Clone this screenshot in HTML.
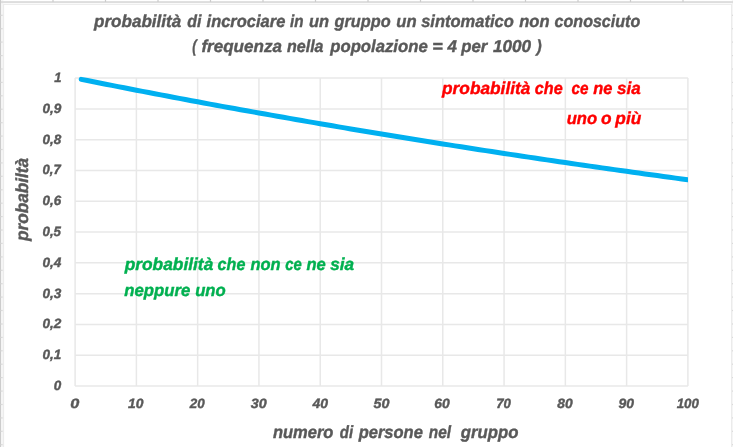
<!DOCTYPE html>
<html><head><meta charset="utf-8"><title>chart</title>
<style>html,body{margin:0;padding:0;background:#fff;overflow:hidden}svg{display:block}text{text-rendering:geometricPrecision;font-family:"Liberation Sans",sans-serif;font-weight:bold;font-style:italic}</style></head><body>
<svg width="733" height="447" viewBox="0 0 733 447">
<rect x="0" y="0" width="733" height="447" fill="#ffffff"/>
<defs><filter id="soft" x="0" y="0" width="100%" height="100%" filterUnits="userSpaceOnUse" color-interpolation-filters="sRGB"><feGaussianBlur stdDeviation="0.55"/></filter></defs>
<g filter="url(#soft)">
<rect x="-5" y="-5" width="743" height="457" fill="#ffffff"/>
<g id="sheet">
<rect x="0" y="0" width="3.4" height="447" fill="#f5f5f5"/>
<rect x="731.8" y="0" width="2" height="447" fill="#f5f5f5"/>
<rect x="0" y="1.1" width="733" height="2" fill="#dddddd"/>
<rect x="0" y="0" width="1.0" height="447" fill="#cccccc"/>
<rect x="52.4" y="0" width="1.2" height="2" fill="#cccccc"/>
<rect x="104.9" y="0" width="1.2" height="2" fill="#cccccc"/>
<rect x="157.4" y="0" width="1.2" height="2" fill="#cccccc"/>
<rect x="209.9" y="0" width="1.2" height="2" fill="#cccccc"/>
<rect x="262.4" y="0" width="1.2" height="2" fill="#cccccc"/>
<rect x="314.9" y="0" width="1.2" height="2" fill="#cccccc"/>
<rect x="367.4" y="0" width="1.2" height="2" fill="#cccccc"/>
<rect x="419.9" y="0" width="1.2" height="2" fill="#cccccc"/>
<rect x="472.4" y="0" width="1.2" height="2" fill="#cccccc"/>
<rect x="524.9" y="0" width="1.2" height="2" fill="#cccccc"/>
<rect x="577.4" y="0" width="1.2" height="2" fill="#cccccc"/>
<rect x="629.9" y="0" width="1.2" height="2" fill="#cccccc"/>
<rect x="682.4" y="0" width="1.2" height="2" fill="#cccccc"/>
<rect x="0.5" y="14.7" width="2.2" height="1.2" fill="#dadada"/>
<rect x="731.6" y="14.7" width="2" height="1.2" fill="#dadada"/>
<rect x="0.5" y="28.1" width="2.2" height="1.2" fill="#dadada"/>
<rect x="731.6" y="28.1" width="2" height="1.2" fill="#dadada"/>
<rect x="0.5" y="41.5" width="2.2" height="1.2" fill="#dadada"/>
<rect x="731.6" y="41.5" width="2" height="1.2" fill="#dadada"/>
<rect x="0.5" y="55.0" width="2.2" height="1.2" fill="#dadada"/>
<rect x="731.6" y="55.0" width="2" height="1.2" fill="#dadada"/>
<rect x="0.5" y="68.4" width="2.2" height="1.2" fill="#dadada"/>
<rect x="731.6" y="68.4" width="2" height="1.2" fill="#dadada"/>
<rect x="0.5" y="81.8" width="2.2" height="1.2" fill="#dadada"/>
<rect x="731.6" y="81.8" width="2" height="1.2" fill="#dadada"/>
<rect x="0.5" y="95.2" width="2.2" height="1.2" fill="#dadada"/>
<rect x="731.6" y="95.2" width="2" height="1.2" fill="#dadada"/>
<rect x="0.5" y="108.6" width="2.2" height="1.2" fill="#dadada"/>
<rect x="731.6" y="108.6" width="2" height="1.2" fill="#dadada"/>
<rect x="0.5" y="122.1" width="2.2" height="1.2" fill="#dadada"/>
<rect x="731.6" y="122.1" width="2" height="1.2" fill="#dadada"/>
<rect x="0.5" y="135.5" width="2.2" height="1.2" fill="#dadada"/>
<rect x="731.6" y="135.5" width="2" height="1.2" fill="#dadada"/>
<rect x="0.5" y="148.9" width="2.2" height="1.2" fill="#dadada"/>
<rect x="731.6" y="148.9" width="2" height="1.2" fill="#dadada"/>
<rect x="0.5" y="162.3" width="2.2" height="1.2" fill="#dadada"/>
<rect x="731.6" y="162.3" width="2" height="1.2" fill="#dadada"/>
<rect x="0.5" y="175.7" width="2.2" height="1.2" fill="#dadada"/>
<rect x="731.6" y="175.7" width="2" height="1.2" fill="#dadada"/>
<rect x="0.5" y="189.2" width="2.2" height="1.2" fill="#dadada"/>
<rect x="731.6" y="189.2" width="2" height="1.2" fill="#dadada"/>
<rect x="0.5" y="202.6" width="2.2" height="1.2" fill="#dadada"/>
<rect x="731.6" y="202.6" width="2" height="1.2" fill="#dadada"/>
<rect x="0.5" y="216.0" width="2.2" height="1.2" fill="#dadada"/>
<rect x="731.6" y="216.0" width="2" height="1.2" fill="#dadada"/>
<rect x="0.5" y="229.4" width="2.2" height="1.2" fill="#dadada"/>
<rect x="731.6" y="229.4" width="2" height="1.2" fill="#dadada"/>
<rect x="0.5" y="242.8" width="2.2" height="1.2" fill="#dadada"/>
<rect x="731.6" y="242.8" width="2" height="1.2" fill="#dadada"/>
<rect x="0.5" y="256.3" width="2.2" height="1.2" fill="#dadada"/>
<rect x="731.6" y="256.3" width="2" height="1.2" fill="#dadada"/>
<rect x="0.5" y="269.7" width="2.2" height="1.2" fill="#dadada"/>
<rect x="731.6" y="269.7" width="2" height="1.2" fill="#dadada"/>
<rect x="0.5" y="283.1" width="2.2" height="1.2" fill="#dadada"/>
<rect x="731.6" y="283.1" width="2" height="1.2" fill="#dadada"/>
<rect x="0.5" y="296.5" width="2.2" height="1.2" fill="#dadada"/>
<rect x="731.6" y="296.5" width="2" height="1.2" fill="#dadada"/>
<rect x="0.5" y="309.9" width="2.2" height="1.2" fill="#dadada"/>
<rect x="731.6" y="309.9" width="2" height="1.2" fill="#dadada"/>
<rect x="0.5" y="323.4" width="2.2" height="1.2" fill="#dadada"/>
<rect x="731.6" y="323.4" width="2" height="1.2" fill="#dadada"/>
<rect x="0.5" y="336.8" width="2.2" height="1.2" fill="#dadada"/>
<rect x="731.6" y="336.8" width="2" height="1.2" fill="#dadada"/>
<rect x="0.5" y="350.2" width="2.2" height="1.2" fill="#dadada"/>
<rect x="731.6" y="350.2" width="2" height="1.2" fill="#dadada"/>
<rect x="0.5" y="363.6" width="2.2" height="1.2" fill="#dadada"/>
<rect x="731.6" y="363.6" width="2" height="1.2" fill="#dadada"/>
<rect x="0.5" y="377.0" width="2.2" height="1.2" fill="#dadada"/>
<rect x="731.6" y="377.0" width="2" height="1.2" fill="#dadada"/>
<rect x="0.5" y="390.5" width="2.2" height="1.2" fill="#dadada"/>
<rect x="731.6" y="390.5" width="2" height="1.2" fill="#dadada"/>
<rect x="0.5" y="403.9" width="2.2" height="1.2" fill="#dadada"/>
<rect x="731.6" y="403.9" width="2" height="1.2" fill="#dadada"/>
<rect x="0.5" y="417.3" width="2.2" height="1.2" fill="#dadada"/>
<rect x="731.6" y="417.3" width="2" height="1.2" fill="#dadada"/>
<rect x="0.5" y="430.7" width="2.2" height="1.2" fill="#dadada"/>
<rect x="731.6" y="430.7" width="2" height="1.2" fill="#dadada"/>
<rect x="0.5" y="444.1" width="2.2" height="1.2" fill="#dadada"/>
<rect x="731.6" y="444.1" width="2" height="1.2" fill="#dadada"/>
<rect x="3.6" y="4.4" width="727.9" height="447" fill="#ffffff" stroke="#ebebeb" stroke-width="1"/>
</g>
<g stroke="#e8e8e8" stroke-width="1.5" fill="none">
<line x1="75.1" y1="386.00" x2="687.9" y2="386.00"/>
<line x1="75.1" y1="355.21" x2="687.9" y2="355.21"/>
<line x1="75.1" y1="324.42" x2="687.9" y2="324.42"/>
<line x1="75.1" y1="293.63" x2="687.9" y2="293.63"/>
<line x1="75.1" y1="262.84" x2="687.9" y2="262.84"/>
<line x1="75.1" y1="232.05" x2="687.9" y2="232.05"/>
<line x1="75.1" y1="201.26" x2="687.9" y2="201.26"/>
<line x1="75.1" y1="170.47" x2="687.9" y2="170.47"/>
<line x1="75.1" y1="139.68" x2="687.9" y2="139.68"/>
<line x1="75.1" y1="108.89" x2="687.9" y2="108.89"/>
<line x1="75.1" y1="78.10" x2="687.9" y2="78.10"/>
<line x1="75.10" y1="78.1" x2="75.10" y2="386.0"/>
<line x1="136.38" y1="78.1" x2="136.38" y2="386.0"/>
<line x1="197.66" y1="78.1" x2="197.66" y2="386.0"/>
<line x1="258.94" y1="78.1" x2="258.94" y2="386.0"/>
<line x1="320.22" y1="78.1" x2="320.22" y2="386.0"/>
<line x1="381.50" y1="78.1" x2="381.50" y2="386.0"/>
<line x1="442.78" y1="78.1" x2="442.78" y2="386.0"/>
<line x1="504.06" y1="78.1" x2="504.06" y2="386.0"/>
<line x1="565.34" y1="78.1" x2="565.34" y2="386.0"/>
<line x1="626.62" y1="78.1" x2="626.62" y2="386.0"/>
<line x1="687.90" y1="78.1" x2="687.90" y2="386.0"/>
</g>
<clipPath id="pc"><rect x="65.1" y="68.1" width="622.8" height="327.9"/></clipPath>
<polyline clip-path="url(#pc)" points="81.23,79.33 87.36,80.56 93.48,81.78 99.61,83.00 105.74,84.21 111.87,85.42 118.00,86.62 124.12,87.82 130.25,89.01 136.38,90.20 142.51,91.38 148.64,92.56 154.76,93.73 160.89,94.90 167.02,96.07 173.15,97.23 179.28,98.38 185.40,99.53 191.53,100.68 197.66,101.82 203.79,102.95 209.92,104.09 216.04,105.21 222.17,106.34 228.30,107.46 234.43,108.57 240.56,109.68 246.68,110.79 252.81,111.89 258.94,112.98 265.07,114.07 271.20,115.16 277.32,116.25 283.45,117.33 289.58,118.40 295.71,119.47 301.84,120.54 307.96,121.60 314.09,122.66 320.22,123.71 326.35,124.76 332.48,125.80 338.60,126.84 344.73,127.88 350.86,128.91 356.99,129.94 363.12,130.97 369.24,131.99 375.37,133.00 381.50,134.01 387.63,135.02 393.76,136.03 399.88,137.03 406.01,138.02 412.14,139.01 418.27,140.00 424.40,140.99 430.52,141.97 436.65,142.94 442.78,143.91 448.91,144.88 455.04,145.85 461.16,146.81 467.29,147.76 473.42,148.72 479.55,149.67 485.68,150.61 491.80,151.55 497.93,152.49 504.06,153.42 510.19,154.36 516.32,155.28 522.44,156.20 528.57,157.12 534.70,158.04 540.83,158.95 546.96,159.86 553.08,160.76 559.21,161.66 565.34,162.56 571.47,163.46 577.60,164.35 583.72,165.23 589.85,166.12 595.98,167.00 602.11,167.87 608.24,168.74 614.36,169.61 620.49,170.48 626.62,171.34 632.75,172.20 638.88,173.05 645.00,173.91 651.13,174.75 657.26,175.60 663.39,176.44 669.52,177.28 675.64,178.11 681.77,178.95 687.90,179.77" fill="none" stroke="#00b0f0" stroke-width="5.0" stroke-linecap="round" stroke-linejoin="round"/>
<text transform="translate(94.04,26.80) scale(0.9918,1)" font-size="17.2" fill="#595959" stroke="#595959" stroke-width="0.4">probabilità</text>
<text transform="translate(187.22,26.80) scale(0.9236,1)" font-size="17.2" fill="#595959" stroke="#595959" stroke-width="0.4">di</text>
<text transform="translate(206.55,26.80) scale(0.9592,1)" font-size="17.2" fill="#595959" stroke="#595959" stroke-width="0.4">incrociare</text>
<text transform="translate(289.97,26.80) scale(0.8843,1)" font-size="17.2" fill="#595959" stroke="#595959" stroke-width="0.4">in</text>
<text transform="translate(309.04,26.80) scale(0.9588,1)" font-size="17.2" fill="#595959" stroke="#595959" stroke-width="0.4">un</text>
<text transform="translate(334.48,26.80) scale(0.9486,1)" font-size="17.2" fill="#595959" stroke="#595959" stroke-width="0.4">gruppo</text>
<text transform="translate(396.33,26.80) scale(0.9690,1)" font-size="17.2" fill="#595959" stroke="#595959" stroke-width="0.4">un</text>
<text transform="translate(421.13,26.80) scale(0.9603,1)" font-size="17.2" fill="#595959" stroke="#595959" stroke-width="0.4">sintomatico</text>
<text transform="translate(519.25,26.80) scale(0.9630,1)" font-size="17.2" fill="#595959" stroke="#595959" stroke-width="0.4">non</text>
<text transform="translate(554.62,26.80) scale(0.9335,1)" font-size="17.2" fill="#595959" stroke="#595959" stroke-width="0.4">conosciuto</text>
<text transform="translate(192.24,51.80) scale(0.7603,1)" font-size="17.2" fill="#595959" stroke="#595959" stroke-width="0.4">(</text>
<text transform="translate(201.40,51.80) scale(0.9917,1)" font-size="17.2" fill="#595959" stroke="#595959" stroke-width="0.4">frequenza</text>
<text transform="translate(286.96,51.80) scale(0.9339,1)" font-size="17.2" fill="#595959" stroke="#595959" stroke-width="0.4">nella</text>
<text transform="translate(330.23,51.80) scale(0.9722,1)" font-size="17.2" fill="#595959" stroke="#595959" stroke-width="0.4">popolazione</text>
<text transform="translate(432.32,51.80) scale(1.0465,1)" font-size="17.2" fill="#595959" stroke="#595959" stroke-width="0.4">=</text>
<text transform="translate(447.55,51.80) scale(0.9847,1)" font-size="17.2" fill="#595959" stroke="#595959" stroke-width="0.4">4</text>
<text transform="translate(461.14,51.80) scale(0.9762,1)" font-size="17.2" fill="#595959" stroke="#595959" stroke-width="0.4">per</text>
<text transform="translate(492.94,51.80) scale(0.9989,1)" font-size="17.2" fill="#595959" stroke="#595959" stroke-width="0.4">1000</text>
<text transform="translate(536.43,51.80) scale(0.9094,1)" font-size="17.2" fill="#595959" stroke="#595959" stroke-width="0.4">)</text>
<text transform="translate(53.66,389.90) scale(0.9974,1)" font-size="13.5" fill="#595959" stroke="#595959" stroke-width="0.4">0</text>
<text transform="translate(42.46,359.11) scale(1.0010,1)" font-size="13.5" fill="#595959" stroke="#595959" stroke-width="0.4">0,1</text>
<text transform="translate(42.46,328.32) scale(1.0061,1)" font-size="13.5" fill="#595959" stroke="#595959" stroke-width="0.4">0,2</text>
<text transform="translate(42.46,297.53) scale(1.0061,1)" font-size="13.5" fill="#595959" stroke="#595959" stroke-width="0.4">0,3</text>
<text transform="translate(42.45,266.74) scale(1.0098,1)" font-size="13.5" fill="#595959" stroke="#595959" stroke-width="0.4">0,4</text>
<text transform="translate(42.47,235.95) scale(0.9877,1)" font-size="13.5" fill="#595959" stroke="#595959" stroke-width="0.4">0,5</text>
<text transform="translate(42.46,205.16) scale(0.9949,1)" font-size="13.5" fill="#595959" stroke="#595959" stroke-width="0.4">0,6</text>
<text transform="translate(42.48,174.37) scale(0.9699,1)" font-size="13.5" fill="#595959" stroke="#595959" stroke-width="0.4">0,7</text>
<text transform="translate(42.46,143.58) scale(0.9986,1)" font-size="13.5" fill="#595959" stroke="#595959" stroke-width="0.4">0,8</text>
<text transform="translate(42.46,112.79) scale(1.0023,1)" font-size="13.5" fill="#595959" stroke="#595959" stroke-width="0.4">0,9</text>
<text transform="translate(54.21,82.00) scale(0.9622,1)" font-size="13.5" fill="#595959" stroke="#595959" stroke-width="0.4">1</text>
<text transform="translate(70.25,408.30) scale(1.2028,1)" font-size="13.5" fill="#595959" stroke="#595959" stroke-width="0.4">0</text>
<text transform="translate(127.99,408.30) scale(1.0241,1)" font-size="13.5" fill="#595959" stroke="#595959" stroke-width="0.4">10</text>
<text transform="translate(189.80,408.30) scale(0.9965,1)" font-size="13.5" fill="#595959" stroke="#595959" stroke-width="0.4">20</text>
<text transform="translate(250.76,408.30) scale(1.0601,1)" font-size="13.5" fill="#595959" stroke="#595959" stroke-width="0.4">30</text>
<text transform="translate(312.51,408.30) scale(1.0364,1)" font-size="13.5" fill="#595959" stroke="#595959" stroke-width="0.4">40</text>
<text transform="translate(373.56,408.30) scale(1.0601,1)" font-size="13.5" fill="#595959" stroke="#595959" stroke-width="0.4">50</text>
<text transform="translate(434.37,408.30) scale(1.0321,1)" font-size="13.5" fill="#595959" stroke="#595959" stroke-width="0.4">60</text>
<text transform="translate(496.18,408.30) scale(0.9781,1)" font-size="13.5" fill="#595959" stroke="#595959" stroke-width="0.4">70</text>
<text transform="translate(557.19,408.30) scale(1.0241,1)" font-size="13.5" fill="#595959" stroke="#595959" stroke-width="0.4">80</text>
<text transform="translate(618.45,408.30) scale(1.0336,1)" font-size="13.5" fill="#595959" stroke="#595959" stroke-width="0.4">90</text>
<text transform="translate(676.70,408.30) scale(0.9846,1)" font-size="13.5" fill="#595959" stroke="#595959" stroke-width="0.4">100</text>
<text transform="translate(272.95,437.50) scale(0.9424,1)" font-size="17.5" fill="#595959" stroke="#595959" stroke-width="0.4">numero</text>
<text transform="translate(339.85,437.50) scale(0.8555,1)" font-size="17.5" fill="#595959" stroke="#595959" stroke-width="0.4">di</text>
<text transform="translate(358.63,437.50) scale(0.9428,1)" font-size="17.5" fill="#595959" stroke="#595959" stroke-width="0.4">persone</text>
<text transform="translate(428.87,437.50) scale(0.8779,1)" font-size="17.5" fill="#595959" stroke="#595959" stroke-width="0.4">nel</text>
<text transform="translate(460.78,437.50) scale(0.9574,1)" font-size="17.5" fill="#595959" stroke="#595959" stroke-width="0.4">gruppo</text>
<text transform="translate(27.8,240.96) rotate(-90) scale(0.9816,1)" font-size="17.5" fill="#595959" stroke="#595959" stroke-width="0.4">probabiltà</text>
<text transform="translate(442.05,93.60) scale(1.0055,1)" font-size="17.2" fill="#ff0000" stroke="#ff0000" stroke-width="0.4">probabilità</text>
<text transform="translate(534.82,93.60) scale(0.9393,1)" font-size="17.2" fill="#ff0000" stroke="#ff0000" stroke-width="0.4">che</text>
<text transform="translate(571.44,93.60) scale(0.8872,1)" font-size="17.2" fill="#ff0000" stroke="#ff0000" stroke-width="0.4">ce</text>
<text transform="translate(593.15,93.60) scale(0.9561,1)" font-size="17.2" fill="#ff0000" stroke="#ff0000" stroke-width="0.4">ne</text>
<text transform="translate(616.93,93.60) scale(0.9905,1)" font-size="17.2" fill="#ff0000" stroke="#ff0000" stroke-width="0.4">sia</text>
<text transform="translate(566.63,123.50) scale(0.9679,1)" font-size="17.2" fill="#ff0000" stroke="#ff0000" stroke-width="0.4">uno</text>
<text transform="translate(600.88,123.50) scale(1.0042,1)" font-size="17.2" fill="#ff0000" stroke="#ff0000" stroke-width="0.4">o</text>
<text transform="translate(615.35,123.50) scale(1.0044,1)" font-size="17.2" fill="#ff0000" stroke="#ff0000" stroke-width="0.4">più</text>
<text transform="translate(124.65,270.40) scale(1.0089,1)" font-size="17.2" fill="#00b050" stroke="#00b050" stroke-width="0.4">probabilità</text>
<text transform="translate(217.62,270.40) scale(0.9358,1)" font-size="17.2" fill="#00b050" stroke="#00b050" stroke-width="0.4">che</text>
<text transform="translate(250.45,270.40) scale(0.9564,1)" font-size="17.2" fill="#00b050" stroke="#00b050" stroke-width="0.4">non</text>
<text transform="translate(285.36,270.40) scale(0.8597,1)" font-size="17.2" fill="#00b050" stroke="#00b050" stroke-width="0.4">ce</text>
<text transform="translate(306.45,270.40) scale(0.9612,1)" font-size="17.2" fill="#00b050" stroke="#00b050" stroke-width="0.4">ne</text>
<text transform="translate(330.13,270.40) scale(1.0034,1)" font-size="17.2" fill="#00b050" stroke="#00b050" stroke-width="0.4">sia</text>
<text transform="translate(124.25,295.70) scale(0.9752,1)" font-size="17.2" fill="#00b050" stroke="#00b050" stroke-width="0.4">neppure</text>
<text transform="translate(195.13,295.70) scale(0.9712,1)" font-size="17.2" fill="#00b050" stroke="#00b050" stroke-width="0.4">uno</text>
</g></svg></body></html>
